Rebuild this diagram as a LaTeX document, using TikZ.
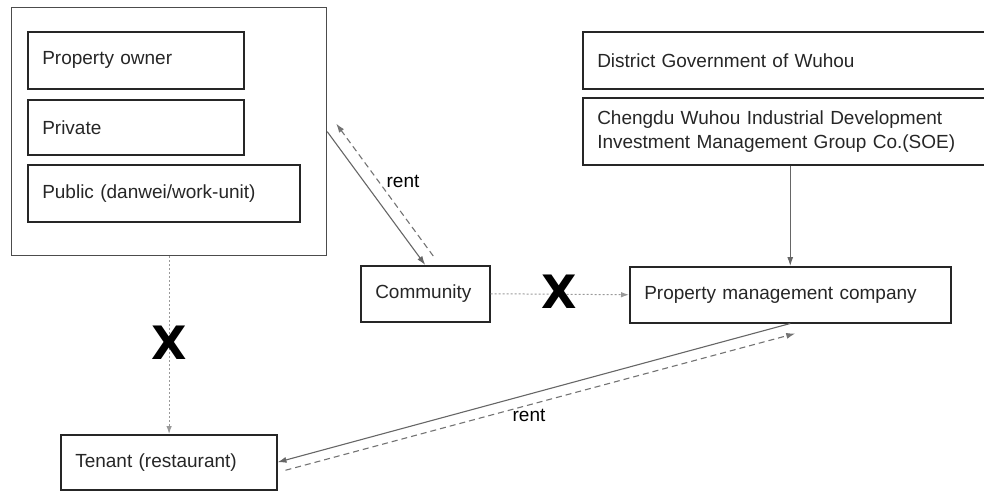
\documentclass[tikz,border=0pt]{standalone}
\usepackage{fontspec}
\setmainfont{Liberation Sans}
\newfontfamily\crossfont{DejaVu Sans}
\usetikzlibrary{arrows.meta,positioning,calc}

\tikzset{
  box/.style={draw=black!85, line width=1.5pt, rectangle, anchor=north west,
    inner xsep=14.5pt, inner ysep=0pt, align=left, text=black!85},
  link/.style={draw=black!60, line width=1.1pt, -{Latex[length=9pt,width=6pt]}},
  rentlink/.style={link, draw=black!55, dash pattern=on 6pt off 4pt},
  nolink/.style={draw=black!40, line width=1pt, dash pattern=on 2pt off 2pt,
    -{Latex[length=8pt,width=5.5pt]}},
  cross/.style={font=\crossfont\fontsize{46}{46}\selectfont\bfseries, inner sep=0pt},
}

\begin{document}
\begin{tikzpicture}[x=1pt,y=-1pt,font=\fontsize{19}{24}\selectfont]
        \useasboundingbox (0,0) rectangle (984,490);
        % owners frame and its three boxes
        \node[draw=black!70, line width=1.2pt, anchor=north west, minimum width=315pt,
          minimum height=248pt, inner sep=0pt] (owners) at (11,7) {};
        \node[box, text width=187pt, minimum height=57pt] (powner) at (27,31) {Property owner};
        \node[box, text width=187pt, minimum height=55pt] (private) at (27,99) {Private};
        \node[box, text width=243pt, minimum height=57pt] (public) at (27,164) {Public (danwei/work-unit)};
        % government side
        \node[box, text width=376pt, minimum height=57pt] (district) at (582,31) {District Government of Wuhou};
        \node[box, text width=376pt, minimum height=67pt] (chengdu) at (582,97)
          {Chengdu Wuhou Industrial Development\\Investment Management Group Co.(SOE)};
        % middle row and tenant
        \node[box, text width=100pt, minimum height=56pt] (community) at (360,265) {Community};
        \node[box, text width=292pt, minimum height=56pt] (pmc) at (629,266) {Property management company};
        \node[box, text width=187pt, minimum height=55pt] (tenant) at (60,434) {Tenant (restaurant)};
        % rent between owners and community
        \draw[link] (owners.east) -- (community.north);
        \draw[rentlink] ([shift={(8,-9)}]community.north) -- ([shift={(9,-8)}]owners.east);
        \node (rentup) at (403,181) {rent};
        % no direct links
        \draw[nolink] (community.east) -- (pmc.west);
        \node[cross] (crossmid) at (559,292) {X};
        \draw[nolink] (owners.south) -- (owners.south |- tenant.north);
        \node[cross] (crossleft) at (169,343) {X};
        % soe manages the company
        \draw[link, line width=1pt] (pmc.north |- chengdu.south) -- (pmc.north);
        % rent between company and tenant
        \draw[link] (pmc.south) -- (tenant.east);
        \draw[rentlink] ([shift={(8,8)}]tenant.east) -- ([shift={(5,10)}]pmc.south);
        \node (rentlow) at (529,415) {rent};
\end{tikzpicture}
\end{document}
